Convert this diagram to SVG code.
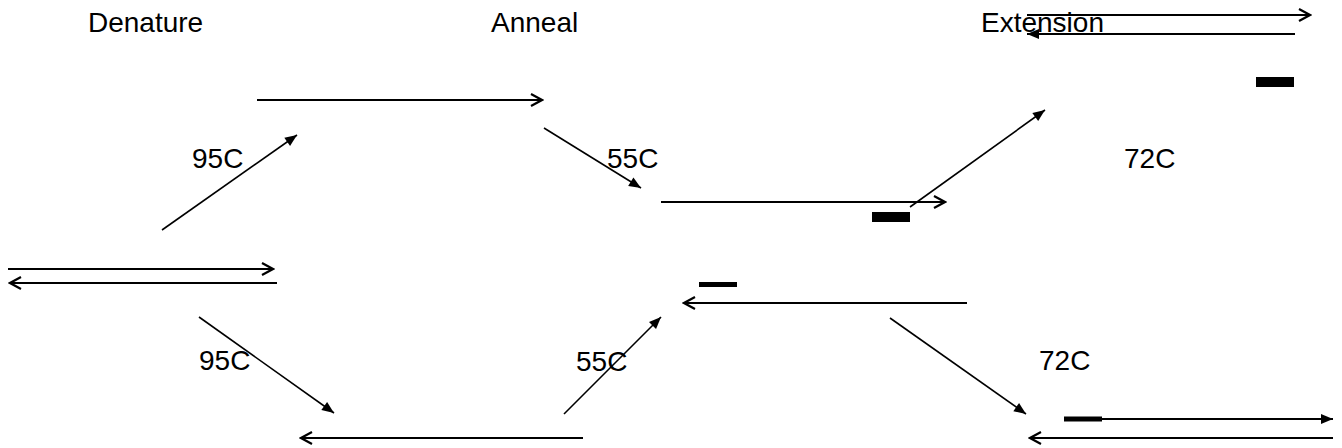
<svg xmlns="http://www.w3.org/2000/svg" width="1342" height="448" viewBox="0 0 1342 448">
<style>
text{font-family:"Liberation Sans",Arial,sans-serif;font-size:28px;fill:#000}
.s{stroke:#000;stroke-width:2.2;fill:none}
.d{stroke:#000;stroke-width:1.6;fill:none}
.o{marker-end:url(#open)}
.f{marker-end:url(#fill)}
</style>
<defs>
<marker id="open" markerUnits="userSpaceOnUse" markerWidth="16" markerHeight="16" viewBox="0 0 16 16" refX="14" refY="8" orient="auto">
<path d="M3,2 L14,8 L3,14" fill="none" stroke="#000" stroke-width="2.2"/>
</marker>
<marker id="fill" markerUnits="userSpaceOnUse" markerWidth="16" markerHeight="16" viewBox="0 0 16 16" refX="14" refY="8" orient="auto">
<path d="M2,3 L14,8 L2,13 Z" fill="#000"/>
</marker>
</defs>
<g id="labels">
<text x="88" y="32">Denature</text>
<text x="491" y="32">Anneal</text>
<text x="981" y="32">Extension</text>
<text x="192" y="168">95C</text>
<text x="607" y="168">55C</text>
<text x="1124" y="168">72C</text>
<text x="199" y="370">95C</text>
<text x="576" y="371">55C</text>
<text x="1039" y="370">72C</text>
</g>
<g id="dsDNA">
<line class="s o" x1="8" y1="269" x2="273" y2="269"/>
<line class="s o" x1="277" y1="283" x2="10" y2="283"/>
</g>
<g id="denatured-top">
<line class="s o" x1="257" y1="100" x2="542" y2="100"/>
</g>
<g id="denatured-bottom">
<line class="s o" x1="583" y1="438" x2="301" y2="438"/>
</g>
<g id="annealed-top">
<line class="s o" x1="661" y1="202" x2="945" y2="202"/>
<rect x="872" y="212" width="38" height="10" fill="#000"/>
</g>
<g id="annealed-bottom">
<line class="s o" x1="967" y1="303" x2="684" y2="303"/>
<rect x="699" y="282" width="38" height="5" fill="#000"/>
</g>
<g id="extended-top">
<line class="s o" x1="1027" y1="15" x2="1310" y2="15"/>
<line class="s f" x1="1295" y1="34" x2="1027" y2="34"/>
<rect x="1256" y="77" width="38" height="10" fill="#000"/>
</g>
<g id="extended-bottom">
<line class="s f" x1="1064" y1="419" x2="1333" y2="419"/>
<rect x="1064" y="416.5" width="38" height="5" fill="#000"/>
<line class="s o" x1="1333" y1="438" x2="1030" y2="438"/>
</g>
<g id="connectors">
<line class="d f" x1="162" y1="230" x2="297" y2="135"/>
<line class="d f" x1="544" y1="128" x2="641" y2="188"/>
<line class="d f" x1="910" y1="207" x2="1045" y2="110"/>
<line class="d f" x1="199" y1="317" x2="334" y2="413"/>
<line class="d f" x1="564" y1="414" x2="661" y2="317"/>
<line class="d f" x1="890" y1="318" x2="1026" y2="414"/>
</g>
</svg>
